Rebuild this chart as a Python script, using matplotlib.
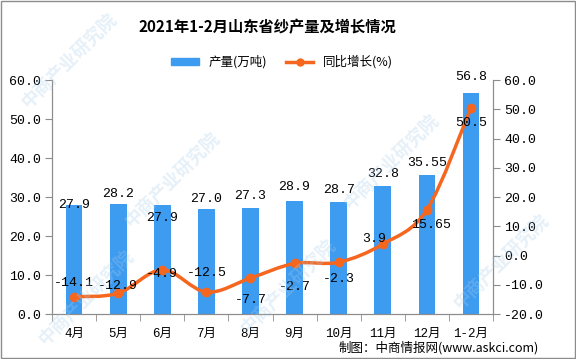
import numpy as np
import matplotlib
matplotlib.use("Agg")
import matplotlib.pyplot as plt
from matplotlib.path import Path
from matplotlib.patches import PathPatch, Rectangle
from matplotlib.lines import Line2D

plt.rcParams['font.family'] = ['Liberation Mono', 'Noto Sans CJK SC', 'DejaVu Sans']

# data
months = ['4月', '5月', '6月', '7月', '8月', '9月', '10月', '11月', '12月', '1-2月']
output = [27.9, 28.2, 27.9, 27.0, 27.3, 28.9, 28.7, 32.8, 35.55, 56.8]
growth = [-14.1, -12.9, -4.9, -12.5, -7.7, -2.7, -2.3, 3.9, 15.65, 50.5]
output_labels = ['27.9', '28.2', '27.9', '27.0', '27.3', '28.9', '28.7', '32.8', '35.55', '56.8']
growth_labels = ['-14.1', '-12.9', '-4.9', '-12.5', '-7.7', '-2.7', '-2.3', '3.9', '15.65', '50.5']

# label offsets (points) - tuned by eye
bar_off = [0, 7, -9, 7, 8, 10, 9, 9, 9, 11]
line_off = [(0, 10), (0, 5), (0, -3), (0, 14), (0, -16), (0, -17), (0, -12), (-6, 4), (3, -11), (0, -11)]

BLUE = '#3D9BF0'
ORANGE = '#F5661F'
GRAY = '#8C8C8C'

fig = plt.figure(figsize=(5.76, 3.59), dpi=100)
ax = fig.add_axes([0.0903, 0.1253, 0.7657, 0.6517])
ax2 = ax.twinx()

x = np.arange(len(months))
ax.bar(x, output, width=0.38, color=BLUE, zorder=2)
ax.set_xlim(-0.5, len(months) - 0.5)
ax.set_ylim(0, 60)
ax.set_yticks(np.arange(0, 61, 10))
ax.set_yticklabels([f'{v:.1f}' for v in np.arange(0, 61, 10)])
ax2.set_ylim(-20, 60)
ax2.set_yticks(np.arange(-20, 61, 10))
ax2.set_yticklabels([f'{v:.1f}' for v in np.arange(-20, 61, 10)])

ax.set_xticks(x)
ax.set_xticklabels(months)
ax.set_xticks(np.arange(-0.5, len(months)), minor=True)
ax.tick_params(axis='x', which='major', length=0, pad=10, labelsize=9)
ax.tick_params(axis='x', which='minor', length=5, color=GRAY, direction='out')
ax.tick_params(axis='y', length=5, color=GRAY, labelsize=9.5, pad=3)
ax2.tick_params(axis='y', length=5, color=GRAY, labelsize=9.5, pad=3)

for a in (ax, ax2):
    a.spines['top'].set_visible(False)
    for s in ('left', 'right', 'bottom'):
        a.spines[s].set_color(GRAY)

# smooth line through the growth points (Catmull-Rom -> bezier)
pts = np.column_stack([x, growth]).astype(float)
verts = [tuple(pts[0])]
codes = [Path.MOVETO]
for i in range(len(pts) - 1):
    p0 = pts[i - 1] if i > 0 else pts[i]
    p1, p2 = pts[i], pts[i + 1]
    p3 = pts[i + 2] if i + 2 < len(pts) else pts[i + 1]
    c1 = p1 + (p2 - p0) / 6
    c2 = p2 - (p3 - p1) / 6
    verts += [tuple(c1), tuple(c2), tuple(p2)]
    codes += [Path.CURVE4] * 3
ax2.add_patch(PathPatch(Path(verts, codes), fill=False, edgecolor=ORANGE, lw=2.5, zorder=3))
ax2.plot(x, growth, 'o', color=ORANGE, ms=6, zorder=4)

for i, v in enumerate(output):
    ax.annotate(output_labels[i], (x[i], v), xytext=(0, bar_off[i]), textcoords='offset points',
                ha='center', va='center', fontsize=9.5, zorder=5)
for i, v in enumerate(growth):
    ax2.annotate(growth_labels[i], (x[i], v), xytext=line_off[i], textcoords='offset points',
                 ha='center', va='center', fontsize=9.5, zorder=5)

fig.text(0.465, 0.925, '2021年1-2月山东省纱产量及增长情况', ha='center', va='center',
         fontsize=11, fontweight='bold', family=['Noto Sans CJK SC'])

handles = [Rectangle((0, 0), 1, 1, color=BLUE),
           Line2D([], [], color=ORANGE, lw=2.5, marker='o', ms=5)]
fig.legend(handles, ['产量(万吨)', '同比增长(%)'], loc='center', bbox_to_anchor=(0.49, 0.828),
           ncol=2, frameon=False, handlelength=2.2, handleheight=0.5, columnspacing=1.5,
           prop={'family': ['Noto Sans CJK SC'], 'size': 9})

fig.text(0.935, 0.03, '制图：中商情报网(www.askci.com)', ha='right', va='center', fontsize=9,
         family=['Noto Sans CJK SC', 'DejaVu Sans'])

# faint watermarks
for (wx, wy) in [(0.12, 0.83), (0.3, 0.5), (0.68, 0.55), (0.15, 0.17), (0.5, 0.2), (0.87, 0.27)]:
    fig.text(wx, wy, '中商产业研究院', rotation=45, ha='center', va='center', fontsize=13,
             color='#A9CDEB', alpha=0.3, family=['Noto Sans CJK SC'], fontweight='bold')

fig.add_artist(Rectangle((0.001, 0.002), 0.997, 0.995, transform=fig.transFigure,
                         fill=False, edgecolor=GRAY, lw=1))

fig.savefig('out.png', dpi=100)
